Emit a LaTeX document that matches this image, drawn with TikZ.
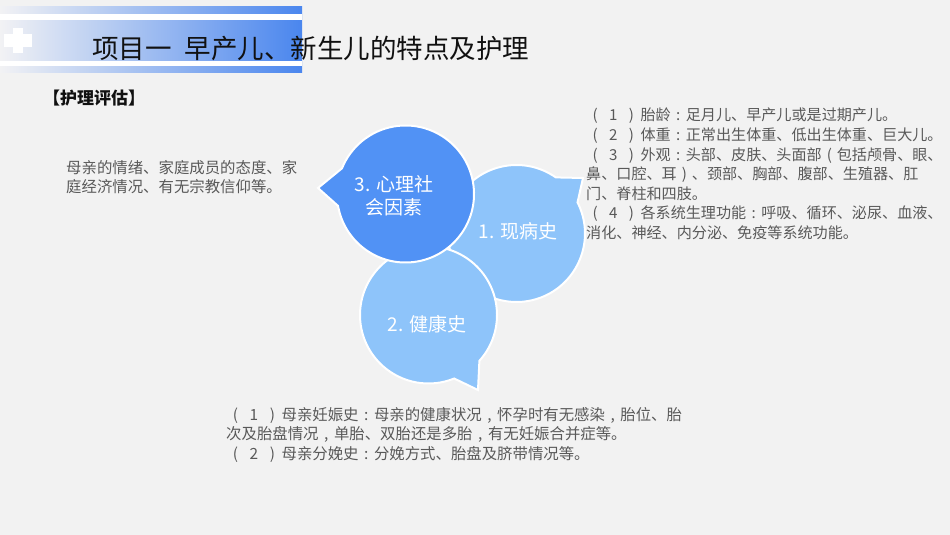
\documentclass[tikz,border=0pt]{standalone}
\usepackage{fontspec}
\setmainfont{Noto Sans CJK SC}
\usetikzlibrary{positioning,calc}
\definecolor{pageBg}{HTML}{F2F2F2}
\definecolor{ink}{HTML}{111111}
\definecolor{muted}{HTML}{595959}
\definecolor{headPale}{HTML}{F2F2F4}
\definecolor{headMid}{HTML}{C4D7F6}
\definecolor{headBlue}{HTML}{4A86EE}
\definecolor{deepBubble}{HTML}{5192F5}
\definecolor{softBubble}{HTML}{8EC4FA}
\newcommand{\itemno}[1]{\makebox[1.2em]{(}\makebox[1.2em]{#1}\makebox[1.2em]{)}}
\newcommand{\fullcolon}{\makebox[1em]{:}}
\newcommand{\fullcomma}{\makebox[1em]{,}}
\tikzset{
  base/.style={text=ink, inner sep=0pt},
  title/.style={base, font=\fontsize{26.5}{31}\selectfont, anchor=west},
  heading/.style={base, font=\bfseries\fontsize{17}{20}\selectfont, anchor=west},
  note/.style={base, text=muted, font=\fontsize{15.4}{19.6}\selectfont, align=left, anchor=north west},
  bubble/.style={line width=2pt, draw=white},
  bubbletext/.style={base, text=white, font=\fontsize{19}{23}\selectfont, align=center},
}
\begin{document}
\begin{tikzpicture}[x=1pt,y=1pt]
  \useasboundingbox (0,0) rectangle (950,-535);
  \fill[pageBg] (0,0) rectangle (950,-535);

  % header band
  \shade[left color=headPale, middle color=headMid, right color=headBlue] (0,-7) rectangle (302,-73);
  \fill[white] (0,-14) rectangle (302,-20);
  \fill[white] (0,-61) rectangle (302,-66);
  \fill[white] (4,-34) rectangle (32,-47);
  \fill[white] (13,-28) rectangle (23,-53);
  \node[title] (title) at (92,-48) {项目一\hspace{0.5em}早产儿、新生儿的特点及护理};
  \node[heading] (heading) at (43,-98) {【护理评估】};

  % bubble centres and tips
  \coordinate (c1) at (516.5,-233.5);
  \coordinate (c2) at (428.5,-315);
  \coordinate (c3) at (405.5,-194);
  \coordinate (tip1) at (583,-178);
  \coordinate (tip2) at (478,-390);
  \coordinate (tip3) at (318,-188);

  \filldraw[bubble, fill=softBubble] ([shift={(55:68.5)}]c1) arc[start angle=55, end angle=387, radius=68.5] -- (tip1) -- cycle;
  \filldraw[bubble, fill=softBubble] ([shift={(-42:68.5)}]c2) arc[start angle=-42, end angle=292, radius=68.5] -- (tip2) -- cycle;
  \filldraw[bubble, fill=deepBubble] ([shift={(190:68.5)}]c3) arc[start angle=190, end angle=518, radius=68.5] -- (tip3) -- cycle;

  \node[bubbletext] (t1) at (518,-231) {1. 现病史};
  \node[bubbletext] (t2) at (427,-324) {2. 健康史};
  \node[bubbletext] (t3) at (394,-196) {3. 心理社\\会因素};

  % notes
  \node[note] (notePsy) at (66,-160) {母亲的情绪、家庭成员的态度、家\\庭经济情况、有无宗教信仰等。};
  \node[note, font=\fontsize{15.1}{19.6}\selectfont] (noteNow) at (586,-108) {\itemno{1}胎龄\fullcolon 足月儿、早产儿或是过期产儿。\\\itemno{2}体重\fullcolon 正常出生体重、低出生体重、巨大儿。\\\itemno{3}外观\fullcolon 头部、皮肤、头面部\makebox[1em]{(}包括颅骨、眼、\\鼻、口腔、耳\makebox[1em]{)}、颈部、胸部、腹部、生殖器、肛\\门、脊柱和四肢。\\\itemno{4}各系统生理功能\fullcolon 呼吸、循环、泌尿、血液、\\消化、神经、内分泌、免疫等系统功能。};
  \node[note] (noteHealth) at (226,-407) {\itemno{1}母亲妊娠史\fullcolon 母亲的健康状况\fullcomma 怀孕时有无感染\fullcomma 胎位、胎\\次及胎盘情况\fullcomma 单胎、双胎还是多胎\fullcomma 有无妊娠合并症等。\\\itemno{2}母亲分娩史\fullcolon 分娩方式、胎盘及脐带情况等。};
\end{tikzpicture}
\end{document}
